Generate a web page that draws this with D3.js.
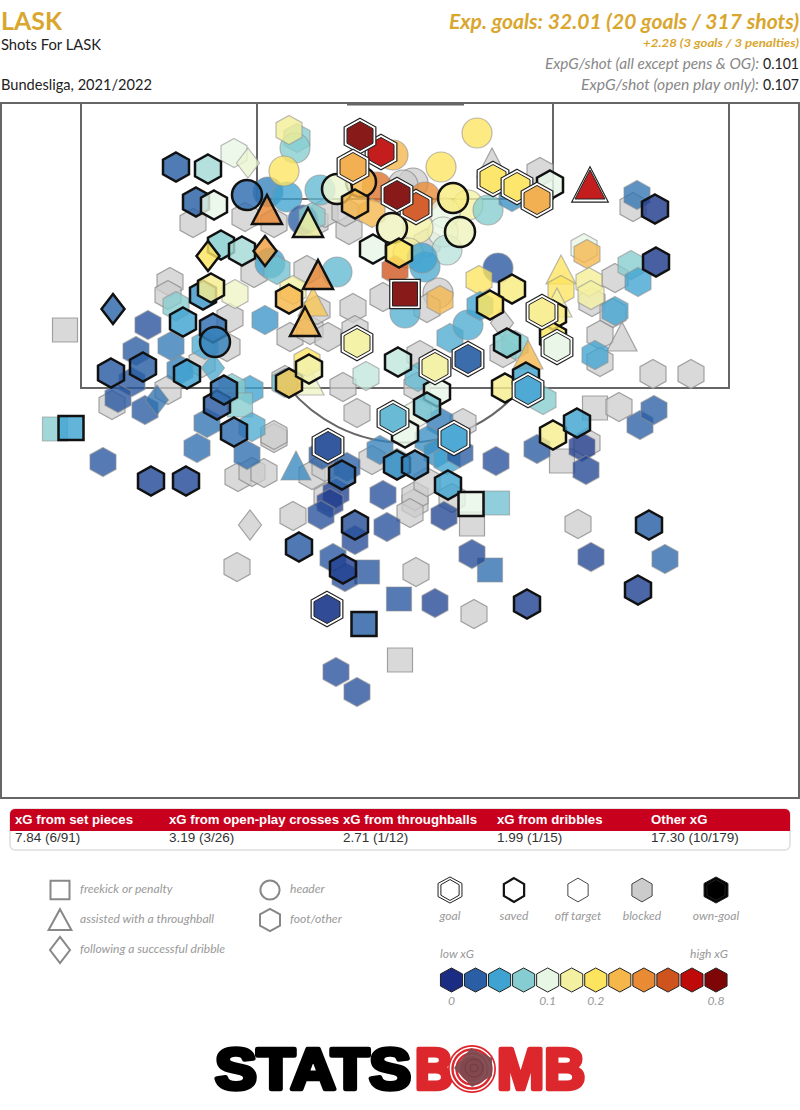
<!DOCTYPE html>
<html>
<head>
<meta charset="utf-8">
<script src="https://cdn.jsdelivr.net/npm/d3@7"></script>
<style>
  html, body { margin: 0; padding: 0; background: #fff; }
  svg { display: block; }
</style>
</head>
<body>
<div id="chart"></div>
<script>
// shots as [x, y, xG colour step, shape]  x across the pitch, y out from the goal line
// shape: h foot/other, c header, s freekick or penalty, t throughball, d dribble
const blockedShots = [
  [19.3,12,0,'h'],[24.5,11.4,0,'h'],[27.4,12,0,'h'],[31.5,11.9,0,'h'],[32.5,11,0,'h'],[34.9,12.7,0,'h'],[34.5,10.9,0,'h'],
  [25.4,17,0,'h'],[30.7,16.7,0,'h'],[17,17.9,0,'h'],[16.8,19.2,0,'h'],[23,21.5,0,'h'],[29,23.4,0,'h'],[31,22.7,0,'h'],
  [32.8,23.4,0,'h'],[31.7,20.7,0,'h'],[35.3,20.5,0,'h'],[35.5,22.7,0,'h'],[34.3,28.4,0,'h'],[22.7,24.4,0,'h'],[20.2,26,0,'h'],
  [28.5,27.7,0,'h'],[38.3,19.4,0,'h'],[11.2,30.2,0,'h'],[16.8,28.7,0,'h'],[35.7,31,0,'h'],[27.4,33.5,0,'h'],[27.4,33.2,0,'h'],
  [23.8,37.4,0,'h'],[25.2,36.9,0,'h'],[26.4,37,0,'h'],[31.2,37.2,0,'h'],[32.5,36.4,0,'h'],[32.7,39.4,0,'h'],[29.3,41.3,0,'h'],
  [25,42.2,0,'d'],[23.7,46.4,0,'h'],[40,55.7,0,'s'],[6.5,22.7,0,'s'],[49.2,6,0,'t'],[54,6.9,0,'h'],[61.5,17.5,0,'h'],
  [59.2,19.9,0,'h'],[61.3,21,0,'h'],[60,23.2,0,'h'],[62.2,23.4,0,'t'],[60,25.9,0,'h'],[65.3,27.1,0,'h'],[69.1,27.1,0,'h'],
  [63.3,10.4,0,'h'],[50.2,22,0,'d'],[50.3,25,0,'h'],[42,25.2,0,'h'],[43.8,19,0,'c'],[42.7,20.5,0,'h'],[41.7,28.4,0,'h'],
  [46.3,32,0,'h'],[59.5,30.5,0,'s'],[61.9,30.4,0,'h'],[56.2,35.8,0,'s'],[58.7,34,0,'h'],[57.8,42.1,0,'h'],[47.2,42.1,0,'s'],
  [41.5,40,0,'h'],[41.5,39.3,0,'h'],[41,41,0,'h'],[41.6,46.9,0,'h'],[47.4,51.1,0,'h'],[37.2,35.7,0,'h'],[42.7,37.9,0,'h'],
  [45.2,39.5,0,'h'],[41.3,8,0,'c'],[40.3,8.2,0,'c'],[42.7,14,0,'h']
]
const offTargetShots = [
  [23.4,5,4,'h'],[24.8,6,4.3,'d'],[29.7,3.5,3,'h'],[29.5,4.5,3,'c'],[28.9,2.7,5.2,'h'],[26.8,8.9,1.5,'c'],[28.7,9.4,2,'c'],
  [28.4,6.8,6,'c'],[32,8.7,2.5,'c'],[30.3,11.7,1,'c'],[31.2,11.4,3,'h'],[37.7,8.4,8.5,'c'],[39.3,5.2,7,'c'],[37.2,11,7,'h'],
  [47.7,3,6,'c'],[44.1,6.4,6,'c'],[42.5,9.4,8,'c'],[46.8,10.2,5,'c'],[48.8,10.7,3,'c'],[44.5,11,4,'c'],[44.3,12.9,4,'c'],
  [44.7,14.7,3.5,'c'],[41.8,12.5,5,'c'],[40.8,15,5,'c'],[42.5,16.4,2.2,'c'],[42.2,15.5,2,'c'],[39.5,16.7,9,'h'],[49.8,16.5,0.8,'c'],
  [47.9,17.7,6,'h'],[44,19.7,7,'h'],[33.7,16.9,2.5,'c'],[27,16,2,'c'],[27.7,16.7,2.7,'h'],[29.3,18.7,5,'h'],[31.3,19.9,6.7,'t'],
  [23.5,19.1,4.5,'h'],[17.6,20.3,3,'h'],[26.5,21.7,1.8,'h'],[14.8,22.2,0.7,'h'],[17.1,24.3,1.4,'h'],[13.6,24.8,0.9,'h'],[20.5,24.2,2.2,'h'],
  [21.3,26.5,2.2,'d'],[18,26.7,1.5,'h'],[13.2,27.9,0.8,'h'],[11.8,29.5,0.8,'h'],[14.5,30.7,0.9,'h'],[15.7,29.7,1.3,'d'],[20.7,32,1.3,'h'],
  [19.7,34.5,1.2,'h'],[10.3,35.9,0.8,'h'],[25,28.7,2,'h'],[23.2,28.5,3,'h'],[24,30.2,3,'s'],[25.2,32.4,2.2,'h'],[24.7,35.2,1.2,'h'],
  [28.5,28,2.7,'h'],[30.9,27.8,4.5,'t'],[30.7,25.9,6,'h'],[36.6,27.3,3.6,'h'],[5.5,32.6,3,'s'],[29.6,36.3,1.6,'t'],[32.2,35.2,0.9,'h'],
  [34.7,36.4,1,'h'],[33.6,39,0.4,'h'],[33,40,0.3,'h'],[32.1,41.2,0.7,'h'],[35.5,43.7,0.6,'h'],[38.3,39.2,0.7,'h'],[38.7,42.4,0.7,'h'],
  [33.3,45.5,0.8,'h'],[36.7,46.9,0.8,'s'],[34.5,47.4,0.7,'h'],[39.9,49.6,0.8,'s'],[33.6,56.9,0.7,'h'],[35.7,58.9,0.7,'h'],[43.5,50,0.5,'h'],
  [49,46.7,1.2,'s'],[47.2,45.1,0.6,'h'],[44.4,41.3,0.5,'h'],[49.7,40,2.7,'s'],[49.6,35.8,0.7,'h'],[53.7,34.6,0.9,'h'],[58.2,34.4,0.3,'h'],
  [58.6,36.7,0.5,'h'],[64,32.2,1,'h'],[65.4,30.7,1,'h'],[59.1,45.4,0.5,'h'],[66.5,45.6,1.1,'h'],[54.3,29.7,3,'h'],[38,34.7,1.5,'h'],
  [44,31.9,1.4,'h'],[42.8,33.7,1.7,'h'],[43.7,35,1.7,'h'],[44.7,35.7,2,'h'],[46,35,0.9,'h'],[39.7,36,2.7,'h'],[41.8,31,4,'h'],
  [41.8,27.4,2.5,'h'],[45,23.5,2.2,'h'],[46.8,22.2,2.2,'c'],[48,20.3,2,'h'],[40.5,21,2.3,'c'],[51.5,24.2,3,'h'],[52.8,25.2,7,'t'],
  [58.4,14.5,4,'h'],[58.7,15.1,7,'h'],[56.1,16.7,6,'t'],[56.1,18.7,6,'h'],[55.7,20,5,'t'],[58.9,17.9,5.2,'h'],[59.1,19.2,5,'h'],
  [63.1,16.2,3,'h'],[63.8,17.9,2,'h'],[61.5,20.8,2,'h'],[59.5,25.2,2,'h'],[63.7,9.2,1.3,'h'],[51.2,9.4,1.7,'h']
]
const savedShots = [
  [17.6,6.4,1,'h'],[20.8,6.6,3.3,'h'],[19.6,9.9,1,'h'],[21.4,10.2,4,'h'],[24.7,9.2,1.2,'c'],[26.7,10.7,8,'t'],[30.8,12,5,'t'],
  [22.1,14.2,3,'h'],[24.2,14.8,3.3,'h'],[20.8,15.3,6,'d'],[26.5,14.8,7.5,'d'],[31.8,17.2,8,'t'],[28.9,19.6,7,'h'],[30.5,21.9,7,'t'],
  [20.3,19.2,1.8,'h'],[21.1,18.5,5.3,'h'],[11.3,20.6,1.1,'d'],[18.3,21.9,2,'h'],[21.3,22.5,1.2,'h'],[21.5,23.9,1.5,'c'],[11.1,27,0.9,'h'],
  [14.3,26.4,1,'h'],[18.7,27.1,2,'h'],[21.7,30.2,0.9,'h'],[22.4,28.7,1.2,'h'],[23.4,32.9,1.2,'h'],[28.9,28,6.6,'h'],[30.9,26.6,4.8,'h'],
  [37.3,14.6,4,'h'],[39.2,12.5,4.6,'c'],[36.1,7.9,7,'c'],[33.7,8.6,4.3,'c'],[35.5,10.1,7,'h'],[39.9,15,6,'h'],[45.3,9.5,5.5,'c'],
  [46,12.9,4.6,'c'],[51.2,18.6,5.5,'h'],[49,20.2,6,'h'],[55,8.2,4,'h'],[65.5,10.6,0.3,'h'],[65.6,15.9,0.3,'h'],[55.3,21.2,5.5,'h'],
  [55.3,23.4,6,'h'],[50.7,24,3,'h'],[39.8,25.9,3.6,'h'],[43.7,28.9,4,'h'],[42.7,30.4,2.7,'h'],[40.5,33,4,'h'],[50.5,28.5,5.3,'h'],
  [52.6,27.4,2,'h'],[55.3,33.2,5.3,'h'],[57.7,32,2,'h'],[39.7,36.2,1.7,'h'],[41.5,36.2,1.5,'h'],[44.8,38.2,2,'h'],[47.1,40.1,4,'s'],
  [34.2,37.2,1.1,'h'],[35.5,42.2,0.7,'h'],[29.9,44.4,0.9,'h'],[34.3,46.6,0.4,'h'],[36.4,52.1,1,'s'],[15.1,37.8,0.6,'h'],[18.6,37.8,0.6,'h'],
  [7.1,32.5,2,'s'],[52.7,50.1,0.5,'h'],[63.8,48.7,0.5,'h'],[64.9,42.2,1,'h']
]
const goalShots = [
  [38.1,4.9,10,'h'],[36,3.3,11,'h'],[35.3,6.4,7.3,'h'],[41.6,10.4,9,'h'],[39.7,9.2,11,'h'],[40.5,19.1,11,'s'],[59,8.2,10,'t'],
  [49.3,7.6,6,'h'],[51.7,8.4,6,'h'],[53.7,9.7,7.3,'h'],[54.2,20.9,5.3,'h'],[55.7,24.4,4,'h'],[46.8,25.6,1,'h'],[43.5,26.4,5,'h'],
  [35.7,24,5,'h'],[52.8,28.7,2,'h'],[39.3,31.5,2.4,'h'],[45.4,33.5,2,'h'],[32.8,34.3,0.6,'h'],[32.7,50.6,0.3,'h']
]

const xgSteps = ['#1b2d83','#2a5fa5','#3fa3d1','#85cdd0','#e8f6e6','#f3f1a1','#fde45f','#f5b64a','#e98a35','#cf531c','#bf0a0a','#7f0606']
const xgTickLabels = [[0,'0'],[4,'0.1'],[6,'0.2'],[11,'0.8']]

const tableHeads = ['xG from set pieces','xG from open-play crosses','xG from throughballs','xG from dribbles','Other xG']
const tableValues = ['7.84 (6/91)','3.19 (3/26)','2.71 (1/12)','1.99 (1/15)','17.30 (10/179)']
const shapeLabels = [['s','freekick or penalty'],['t','assisted with a throughball'],['d','following a successful dribble']]
const shapeLabels2 = [['c','header'],['h','foot/other']]
const outcomeLabels = ['goal','saved','off target','blocked','own-goal']

const W = 800, H = 1110
const gold = '#d9a62e'
const svg = d3.select('#chart').append('svg').attr('width', W).attr('height', H)

const x = d3.scaleLinear().domain([0, 80]).range([0, 800])
const y = d3.scaleLinear().domain([0, 69.5]).range([103, 798])
const colorOf = d3.scaleLinear().domain(d3.range(12)).range(xgSteps)

// marker outlines, k scales the whole marker
const line = d3.line().curve(d3.curveLinearClosed)
function shapePath(s, k = 1, sx = 1, sy = 1) {
  if (s == 'c') return d3.arc()({innerRadius: 0, outerRadius: 15 * k * sx, startAngle: 0, endAngle: 2 * Math.PI})
  let pts
  if (s == 'h') pts = [[0,-14.5],[13,-7.3],[13,7.3],[0,14.5],[-13,7.3],[-13,-7.3]]
  if (s == 's') pts = [[-12.5,-12],[12.5,-12],[12.5,12],[-12.5,12]]
  if (s == 't') pts = [[0,-15],[15,14],[-15,14]]
  if (s == 'd') pts = [[0,-15],[11.5,0],[0,15],[-11.5,0]]
  return line(pts.map(p => [p[0] * k * sx, p[1] * k * sy]))
}

function drawText(str, px, py, size, opts = {}) {
  return svg.append('text').attr('x', px).attr('y', py)
    .attr('font-family', opts.font || 'Lato')
    .attr('font-size', size)
    .attr('font-weight', opts.bold ? 700 : 400)
    .attr('font-style', opts.italic ? 'italic' : 'normal')
    .attr('text-anchor', opts.anchor || 'start')
    .attr('fill', opts.color || '#222')
    .text(str)
}

// header block
drawText('LASK', 1, 30, 25, {bold: true, color: gold}).attr('textLength', 61).attr('lengthAdjust', 'spacingAndGlyphs')
drawText('Shots For LASK', 1, 50, 15, {color: '#222'}).attr('textLength', 100).attr('lengthAdjust', 'spacingAndGlyphs')
drawText('Bundesliga, 2021/2022', 1, 90, 15, {color: '#222'}).attr('textLength', 151).attr('lengthAdjust', 'spacingAndGlyphs')
drawText('Exp. goals: 32.01 (20 goals / 317 shots)', 799, 29, 21, {bold: true, italic: true, color: gold, anchor: 'end'})
  .attr('textLength', 350).attr('lengthAdjust', 'spacingAndGlyphs')
drawText('+2.28 (3 goals / 3 penalties)', 799, 47, 12, {bold: true, italic: true, color: gold, anchor: 'end'})
  .attr('textLength', 156).attr('lengthAdjust', 'spacingAndGlyphs')
drawText('ExpG/shot (all except pens & OG):', 759, 69, 15, {italic: true, color: '#888', anchor: 'end'})
  .attr('textLength', 214).attr('lengthAdjust', 'spacingAndGlyphs')
drawText('0.101', 799, 69, 15, {anchor: 'end', color: '#222'}).attr('textLength', 36).attr('lengthAdjust', 'spacingAndGlyphs')
drawText('ExpG/shot (open play only):', 759, 90, 15, {italic: true, color: '#888', anchor: 'end'})
  .attr('textLength', 178).attr('lengthAdjust', 'spacingAndGlyphs')
drawText('0.107', 799, 90, 15, {anchor: 'end', color: '#222'}).attr('textLength', 36).attr('lengthAdjust', 'spacingAndGlyphs')

// pitch lines
const pitch = svg.append('g').attr('fill', 'none').attr('stroke', '#666').attr('stroke-width', 2)
pitch.append('rect').attr('x', x(0) + 1).attr('y', y(0)).attr('width', x(80) - 2).attr('height', y(69.5) - y(0))
pitch.append('rect').attr('x', x(8.1)).attr('y', y(0)).attr('width', x(72.9) - x(8.1)).attr('height', y(28.5) - y(0))
pitch.append('rect').attr('x', x(25.7)).attr('y', y(0)).attr('width', x(55.3) - x(25.7)).attr('height', y(9.6) - y(0))
pitch.append('line').attr('x1', x(34.7)).attr('x2', x(46.4)).attr('y1', y(0.1)).attr('y2', y(0.1)).attr('stroke-width', 3)
pitch.append('path').attr('transform', `translate(${x(40.5)},${y(18.9)})`)
  .attr('d', d3.arc()({innerRadius: x(15.06), outerRadius: x(15.06), startAngle: Math.PI - 0.88, endAngle: Math.PI + 0.88}))

// shots, low layers first
function place(d) { return `translate(${x(d[0])},${y(d[1])})` }
const shots = svg.append('g')

shots.selectAll('.blocked').data(blockedShots).join('path').attr('class', 'blocked')
  .attr('transform', place).attr('d', d => shapePath(d[3]))
  .attr('fill', '#cccccc').attr('fill-opacity', 0.75).attr('stroke', '#8f8f8f').attr('stroke-opacity', 0.8).attr('stroke-width', 1.2)

shots.selectAll('.off').data(offTargetShots).join('path').attr('class', 'off')
  .attr('transform', place).attr('d', d => shapePath(d[3]))
  .attr('fill', d => colorOf(d[2])).attr('fill-opacity', 0.78).attr('stroke', '#8f8f8f').attr('stroke-opacity', 0.6).attr('stroke-width', 1.2)

shots.selectAll('.saved').data(savedShots).join('path').attr('class', 'saved')
  .attr('transform', place).attr('d', d => shapePath(d[3]))
  .attr('fill', d => colorOf(d[2])).attr('fill-opacity', 0.82).attr('stroke', '#111').attr('stroke-width', 2.5)

const goals = shots.selectAll('.goal').data(goalShots).join('g').attr('class', 'goal').attr('transform', place)
goals.append('path').attr('d', d => shapePath(d[3], 1.22)).attr('fill', '#fff').attr('stroke', '#222').attr('stroke-width', 1.2)
goals.append('path').attr('d', d => shapePath(d[3], 1)).attr('fill', d => colorOf(d[2])).attr('fill-opacity', 0.92).attr('stroke', '#222').attr('stroke-width', 1)

// xG table
const tableX = [15, 169, 343, 497, 651]
svg.append('rect').attr('x', 10).attr('y', 809).attr('width', 780).attr('height', 41).attr('rx', 5)
  .attr('fill', '#fff').attr('stroke', '#ddd').attr('stroke-width', 1.5)
svg.append('path').attr('fill', '#c8001e')
  .attr('d', 'M10,831V814a5,5 0 0 1 5,-5H785a5,5 0 0 1 5,5V831Z')
tableHeads.forEach((t, i) => {
  drawText(t, tableX[i], 824, 13.2, {font: 'Liberation Sans', bold: true, color: '#fff'})
  drawText(tableValues[i], tableX[i], 842, 13.5, {font: 'Liberation Sans', color: '#333'})
})

// shape legend
const legendGrey = '#888'
function legendShape(s, cx, cy, sx, sy) {
  svg.append('path').attr('transform', `translate(${cx},${cy})`).attr('d', shapePath(s, 1, sx, sy))
    .attr('fill', '#fff').attr('stroke', legendGrey).attr('stroke-width', 2)
}
const legendText = (t, px, py, anchor) => drawText(t, px, py, 12.1, {font: 'Lato', italic: true, color: '#999', anchor})
shapeLabels.forEach((d, i) => {
  legendShape(d[0], 60, 890 + i * 30, d[0] == 'd' ? 0.87 : 0.76, d[0] == 'd' ? 0.87 : d[0] == 't' ? 0.72 : 0.78)
  legendText(d[1], 80, 893 + i * 30)
})
shapeLabels2.forEach((d, i) => {
  legendShape(d[0], 270, 890 + i * 30, d[0] == 'c' ? 0.64 : 0.77, 0.76)
  legendText(d[1], 290, 893 + i * 30)
})

// outcome legend, same look as the shots
const outcomeX = d3.scaleOrdinal().domain(outcomeLabels).range([450, 514, 578, 642, 716])
outcomeLabels.forEach(o => {
  const g = svg.append('g').attr('transform', `translate(${outcomeX(o)},890)`)
  if (o == 'goal' || o == 'own-goal') {
    g.append('path').attr('d', shapePath('h', 1, 0.92, 0.9)).attr('fill', o == 'goal' ? '#fff' : '#000').attr('stroke', '#222').attr('stroke-width', 1)
    g.append('path').attr('d', shapePath('h', 1, 0.7, 0.72)).attr('fill', o == 'goal' ? '#fff' : '#000').attr('stroke', '#222').attr('stroke-width', 1)
  } else {
    g.append('path').attr('d', shapePath('h', 1, 0.78, 0.82))
      .attr('fill', o == 'blocked' ? '#ccc' : '#fff')
      .attr('stroke', o == 'saved' ? '#111' : '#333')
      .attr('stroke-width', o == 'saved' ? 2.2 : 0.9)
  }
  legendText(o, outcomeX(o), 920, 'middle')
})

// xG colour key
const keyX = d3.scalePoint().domain(d3.range(12)).range([451.5, 716])
legendText('low xG', 440, 958)
legendText('high xG', 728, 958, 'end')
svg.selectAll('.key').data(xgSteps).join('path').attr('class', 'key')
  .attr('transform', (d, i) => `translate(${keyX(i)},980)`)
  .attr('d', shapePath('h', 1, 0.85, 0.83))
  .attr('fill', d => d).attr('stroke', '#222').attr('stroke-width', 1)
xgTickLabels.forEach(d => legendText(d[1], keyX(d[0]), 1005, 'middle'))

// logo, heavy stroke on the text stands in for the black weight
const logoRed = '#dc272d'
const logoText = (t, px, w, c) => svg.append('text').attr('x', px).attr('y', 1089)
  .attr('font-family', 'Liberation Sans').attr('font-weight', 700).attr('font-size', 57)
  .attr('fill', c).attr('stroke', c).attr('stroke-width', 4.5).attr('stroke-linejoin', 'round')
  .attr('textLength', w).attr('lengthAdjust', 'spacingAndGlyphs').text(t)
logoText('STATS', 215, 196, '#000')
logoText('B', 415, 38, logoRed)
logoText('MB', 497, 88, logoRed)
svg.append('circle').attr('cx', 472).attr('cy', 1069).attr('r', 24).attr('fill', logoRed)
d3.range(3).forEach(i => {
  svg.append('circle').attr('cx', 472).attr('cy', 1069).attr('r', 21.5 - i * 4)
    .attr('fill', 'none').attr('stroke', '#fff').attr('stroke-width', 1.6)
})
svg.append('path').attr('d', 'M471,1048L492,1058L492,1076L472,1087L454,1068Z').attr('fill', '#7d4a50').attr('fill-opacity', 0.95)
d3.range(2).forEach(i => {
  svg.append('circle').attr('cx', 474).attr('cy', 1068).attr('r', 9 - i * 5)
    .attr('fill', 'none').attr('stroke', '#6d3d44').attr('stroke-width', 1)
})
</script>
</body>
</html>
